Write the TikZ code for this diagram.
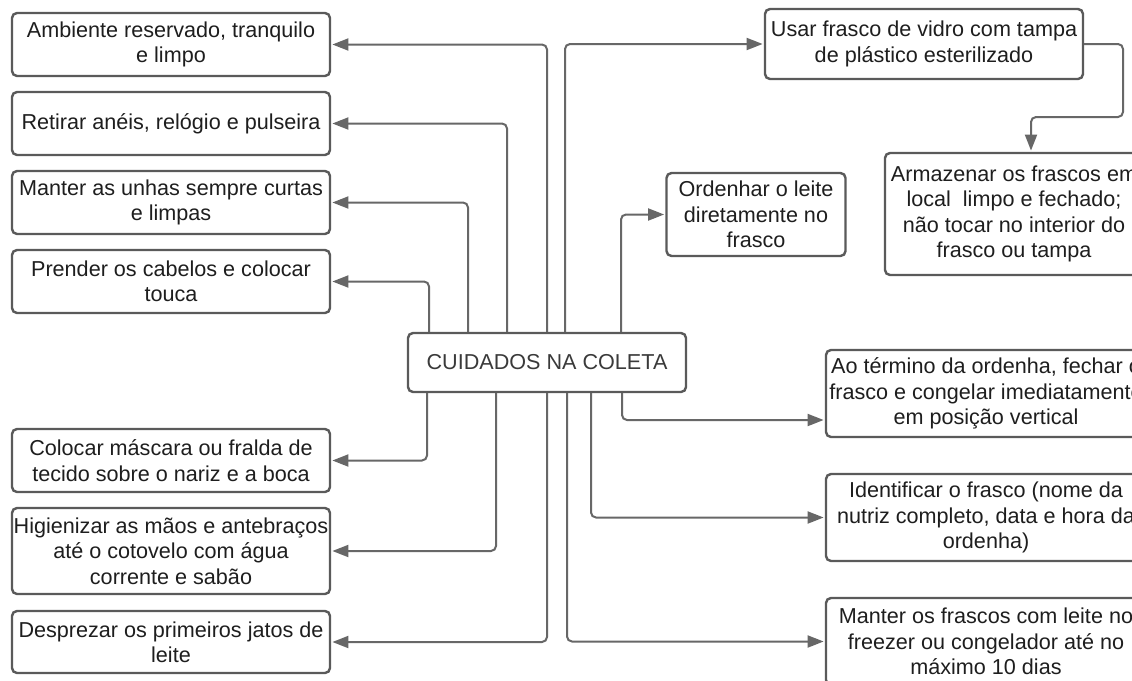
\documentclass[tikz,border=0pt]{standalone}
\usepackage{fontspec}
\setmainfont{Liberation Sans}
\usetikzlibrary{arrows.meta,calc}
\definecolor{boxc}{HTML}{5A5A5A}
\definecolor{linec}{HTML}{676767}
\definecolor{txt}{HTML}{1E1E1E}
\definecolor{titc}{HTML}{3A3A3A}
\tikzset{
  card/.style={draw=boxc, line width=2.4pt, rounded corners=5pt, fill=white,
    align=center, inner sep=0pt, text=txt,
    font=\fontsize{21.6}{25.3}\selectfont},
  conn/.style={draw=linec, line width=2pt, rounded corners=5pt,
    -{Triangle[length=16pt,width=12pt]}, shorten >=1.2pt},
}
\begin{document}
\begin{tikzpicture}[x=1pt,y=-1pt]
\useasboundingbox (0,0) rectangle (1132,680);
\clip (0,0) rectangle (1132,680);
\fill[white] (0,0) rectangle (1132,680);

% left boxes
\node[card, minimum width=318pt, minimum height=63pt] (A) at (171,44.5) {Ambiente reservado, tranquilo\\e limpo};
\node[card, minimum width=318pt, minimum height=63pt] (B) at (171,123.5) {Retirar anéis, relógio e pulseira};
\node[card, minimum width=318pt, minimum height=63pt] (Cc) at (171,202.5) {Manter as unhas sempre curtas\\e limpas};
\node[card, minimum width=318pt, minimum height=63pt] (D) at (171,281.5) {Prender os cabelos e colocar\\touca};
\node[card, minimum width=318pt, minimum height=63pt] (E) at (171,460.5) {Colocar máscara ou fralda de\\tecido sobre o nariz e a boca};
\node[card, minimum width=318pt, minimum height=86pt] (F) at (171,551) {Higienizar as mãos e antebraços\\até o cotovelo com água\\corrente e sabão};
\node[card, minimum width=318pt, minimum height=62pt] (G) at (171,642) {Desprezar os primeiros jatos de\\leite};

% center
\node[card, text=titc, minimum width=278pt, minimum height=59pt] (C) at (547,362.5) {CUIDADOS NA COLETA};

% right boxes
\node[card, minimum width=318pt, minimum height=70pt] (U) at (924,44) {Usar frasco de vidro com tampa\\de plástico esterilizado};
\node[card, minimum width=179pt, minimum height=83pt] (O) at (756,214.5) {Ordenhar o leite\\diretamente no\\frasco};
\node[card, minimum width=258pt, minimum height=122pt] (Ar) at (1014,214) {Armazenar os frascos em\\local\ \ limpo e fechado;\\não tocar no interior do\\frasco ou tampa};
\node[card, minimum width=320pt, minimum height=87pt] (T) at (986,393.5) {Ao término da ordenha, fechar o\\frasco e congelar imediatamente\\em posição vertical};
\node[card, minimum width=320pt, minimum height=87pt] (I) at (986,517.5) {Identificar o frasco (nome da\\nutriz completo, data e hora da\\ordenha)};
\node[card, minimum width=320pt, minimum height=87pt] (M) at (986,641.5) {Manter os frascos com leite no\\freezer ou congelador até no\\máximo 10 dias};

% coordinates for lanes
\coordinate (xD) at (429,0);
\coordinate (xC) at (468,0);
\coordinate (xB) at (507,0);
\coordinate (xU) at (565,0);
\coordinate (xO) at (621,0);
\coordinate (xE) at (427,0);
\coordinate (xF) at (496,0);
\coordinate (xM) at (567,0);
\coordinate (xI) at (591,0);
\coordinate (xT) at (622,0);
\coordinate (k1) at (1123,117);
\coordinate (k2) at (1031,0);
\coordinate (tT) at ($(T.west)+(0,26.5)$);

% top connectors
\draw[conn] (C.north) |- (A.east);
\draw[conn] (C.north -| xB) |- (B.east);
\draw[conn] (C.north -| xC) |- (Cc.east);
\draw[conn] (C.north -| xD) |- (D.east);
\draw[conn] (C.north -| xU) |- (U.west);
\draw[conn] (C.north -| xO) |- (O.west);
\draw[conn] (U.east) -| (k1) -| (Ar.north -| k2);

% bottom connectors
\draw[conn] (C.south -| xE) |- (E.east);
\draw[conn] (C.south -| xF) |- (F.east);
\draw[conn] (C.south) |- (G.east);
\draw[conn] (C.south -| xM) |- (M.west);
\draw[conn] (C.south -| xI) |- (I.west);
\draw[conn] (C.south -| xT) |- (tT);
\end{tikzpicture}
\end{document}
